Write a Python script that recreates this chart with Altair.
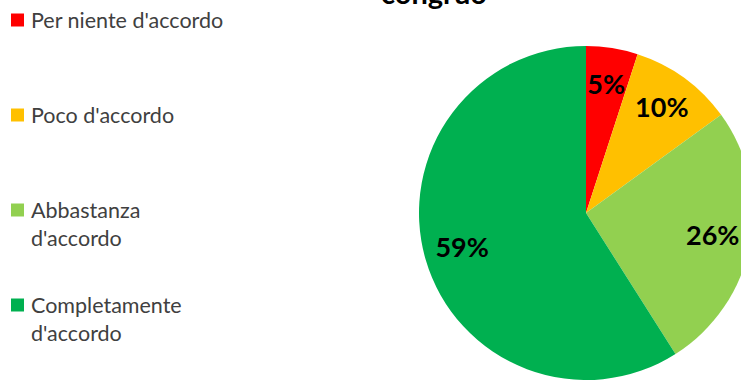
import altair as alt
import pandas as pd

categories = ["Per niente d'accordo", "Poco d'accordo", "Abbastanza d'accordo", "Completamente d'accordo"]
legend_labels = ["Per niente d'accordo", "Poco d'accordo", "Abbastanza\nd'accordo", "Completamente\nd'accordo"]
values = [5, 10, 26, 59]
colors = ["#FF0000", "#FFC000", "#92D050", "#00B050"]
title_text = ["congruo"]

df = pd.DataFrame({
    "cat": categories,
    "label": legend_labels,
    "value": values,
    "order": list(range(len(categories))),
    "pct": [f"{v}%" for v in values],
})
tdf = pd.DataFrame({"t": title_text})

color = alt.Color("cat:N", scale=alt.Scale(domain=categories, range=colors), legend=None)
cx, cy, R = 586, 213, 167

base = alt.Chart(df)

pie = base.mark_arc(outerRadius=R).encode(
    theta=alt.Theta("value:Q", stack=True),
    color=color,
    order=alt.Order("order:Q"),
    x=alt.value(cx),
    y=alt.value(cy),
)

pie_labels = base.mark_text(
    radius=129, font="Lato", fontSize=27, fontWeight="bold", color="black",
    align="center", baseline="middle",
).encode(
    theta=alt.Theta("value:Q", stack=True),
    order=alt.Order("order:Q"),
    text="pct:N",
    x=alt.value(cx),
    y=alt.value(cy),
)

ly = alt.Y("cat:N", scale=alt.Scale(domain=categories, range=[20, 305], padding=0), axis=None)

legend_sq = base.mark_square(size=169, opacity=1).encode(
    x=alt.value(17.5),
    y=ly,
    color=color,
)

legend_txt = base.mark_text(
    font="Lato", fontSize=21.5, color="#404040", align="left", baseline="alphabetic",
    dy=8, lineBreak="\n", lineHeight=28,
).encode(
    x=alt.value(31),
    y=ly,
    text="label:N",
)

title = alt.Chart(tdf).mark_text(
    font="Lato", fontSize=29, fontWeight="bold", color="black", align="center", baseline="alphabetic",
).encode(
    x=alt.value(434),
    y=alt.value(4),
    text="t:N",
)

chart = alt.layer(pie, pie_labels, legend_sq, legend_txt, title).properties(
    width=741, height=383, padding=0, autosize=alt.AutoSizeParams(type="none")
).configure_view(stroke=None)

chart.save("out.html", embed_options={"renderer": "svg", "actions": False})
